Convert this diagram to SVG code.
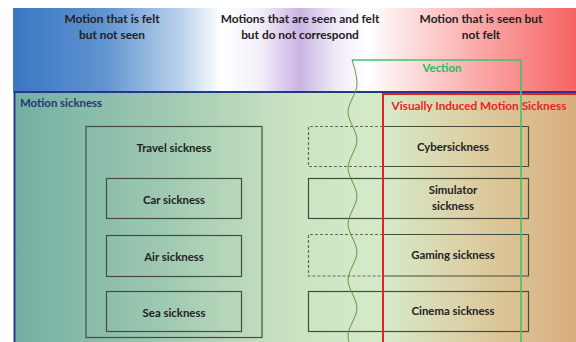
<svg xmlns="http://www.w3.org/2000/svg" width="576" height="342" viewBox="0 0 576 342">
<defs>
<linearGradient id="band" x1="13" y1="0" x2="576" y2="0" gradientUnits="userSpaceOnUse">
<stop offset="0" stop-color="#3a77c3"/>
<stop offset="0.16" stop-color="#5f93d0"/>
<stop offset="0.3" stop-color="#bcd3ee"/>
<stop offset="0.37" stop-color="#ffffff"/>
<stop offset="0.44" stop-color="#f3eefa"/>
<stop offset="0.51" stop-color="#c9b3e3"/>
<stop offset="0.57" stop-color="#efe8f7"/>
<stop offset="0.63" stop-color="#ffffff"/>
<stop offset="0.7" stop-color="#fde0e0"/>
<stop offset="0.85" stop-color="#fa9f9f"/>
<stop offset="1" stop-color="#f76464"/>
</linearGradient>
<linearGradient id="main" x1="14" y1="0" x2="576" y2="0" gradientUnits="userSpaceOnUse">
<stop offset="0" stop-color="#72afa3"/>
<stop offset="0.25" stop-color="#9cc7b0"/>
<stop offset="0.5" stop-color="#cbe4c2"/>
<stop offset="0.66" stop-color="#d6eac8"/>
<stop offset="0.82" stop-color="#dccda2"/>
<stop offset="1" stop-color="#d8ae7d"/>
</linearGradient>
</defs>
<style>
text{font-family:Lato,"Liberation Sans",sans-serif;font-weight:bold;font-size:11.4px;fill:#222;text-anchor:middle}
.hdr{font-size:11.9px}
.box{fill:none;stroke:#454c3c;stroke-width:1.2}
.dash{fill:none;stroke:#666;stroke-width:1.2;stroke-dasharray:3 2}
.grn{fill:none;stroke:#3cc66c;stroke-width:1.6}
</style>
<rect x="13" y="8" width="563" height="84" fill="url(#band)"/>
<line x1="218" y1="8" x2="218" y2="92" stroke="#fff" stroke-opacity="0.5"/>
<line x1="384" y1="8" x2="384" y2="92" stroke="#fff" stroke-opacity="0.5"/>
<g id="header">
<text class="hdr" x="112" y="23">Motion that is felt</text>
<text class="hdr" x="112" y="39">but not seen</text>
<text class="hdr" x="300" y="23">Motions that are seen and felt</text>
<text class="hdr" x="300" y="39">but do not correspond</text>
<text class="hdr" x="481" y="23">Motion that is seen but</text>
<text class="hdr" x="481" y="39">not felt</text>
</g>
<g id="motion-sickness">
<rect x="14.5" y="92" width="565" height="255" fill="url(#main)" stroke="#24388a" stroke-width="2"/>
<text x="20" y="107" style="text-anchor:start;fill:#1f3778">Motion sickness</text>
</g>
<g id="travel-sickness">
<rect class="box" x="86" y="126.5" width="176" height="211"/>
<text x="174" y="152">Travel sickness</text>
</g>
<g id="car-sickness">
<rect class="box" x="106.5" y="178.5" width="135" height="40"/>
<text x="174" y="204">Car sickness</text>
</g>
<g id="air-sickness">
<rect class="box" x="106.5" y="235.5" width="135" height="41"/>
<text x="174" y="261">Air sickness</text>
</g>
<g id="sea-sickness">
<rect class="box" x="106.5" y="291.5" width="135" height="40"/>
<text x="174" y="317">Sea sickness</text>
</g>
<g id="cybersickness">
<path class="dash" d="M383,126.5 H308.5 V166.5 H383"/>
<path class="box" d="M383,126.5 H528.5 V166.5 H383"/>
<text x="453" y="151">Cybersickness</text>
</g>
<g id="simulator-sickness">
<rect class="box" x="308.5" y="178.5" width="220" height="40"/>
<text x="453" y="194">Simulator</text>
<text x="453" y="210">sickness</text>
</g>
<g id="gaming-sickness">
<path class="dash" d="M383,234.5 H308.5 V276 H383"/>
<path class="box" d="M383,234.5 H528.5 V276 H383"/>
<text x="453" y="259">Gaming sickness</text>
</g>
<g id="cinema-sickness">
<rect class="box" x="308.5" y="291.5" width="220" height="40"/>
<text x="453" y="315">Cinema sickness</text>
</g>
<g id="vims">
<rect x="383" y="94" width="200" height="260" fill="none" stroke="#e02228" stroke-width="2"/>
<text x="479" y="110" style="fill:#ee2222;font-size:11.8px">Visually Induced Motion Sickness</text>
</g>
<g id="boundaries">
<path class="grn" d="M352,60 H521 V342"/>
<text x="442" y="72" style="fill:#22c058">Vection</text>
<path fill="none" stroke="#5a9a3a" stroke-width="1" d="M352,60 C354,66 357,76 357,84 C357,93 348,103 348,112 C348,121 357,131 357,140 C357,149 348,159 348,168 C348,177 357,187 357,196 C357,205 348,215 348,224 C348,233 357,243 357,252 C357,261 348,271 348,280 C348,289 357,299 357,308 C357,317 348,327 348,336 C348,339 349,341 349,342"/>
</g>
</svg>
